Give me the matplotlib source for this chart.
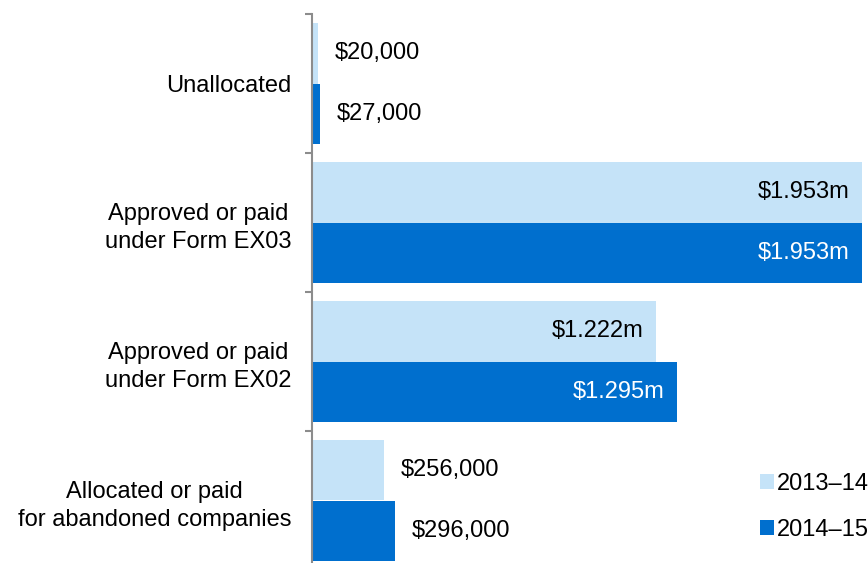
import matplotlib
matplotlib.use("Agg")
import matplotlib.pyplot as plt
import numpy as np
from matplotlib.patches import Patch

categories = ["Unallocated", "Approved or paid\nunder Form EX03",
              "Approved or paid\nunder Form EX02", "Allocated or paid\nfor abandoned companies"]
series_names = ["2013\u201314", "2014\u201315"]
values_1314 = [0.020, 1.953, 1.222, 0.256]   # $ millions
values_1415 = [0.027, 1.953, 1.295, 0.296]
labels_1314 = ["$20,000", "$1.953m", "$1.222m", "$256,000"]
labels_1415 = ["$27,000", "$1.953m", "$1.295m", "$296,000"]

light = "#C5E3F8"
dark = "#006FCE"

plt.rcParams['font.family'] = ['Liberation Sans', 'DejaVu Sans']
FS = 17

fig = plt.figure(figsize=(8.68, 5.63), dpi=100)
ax = fig.add_axes([312/868, (563-570)/563, 556/868, 556/563])

y = np.arange(len(categories))
h = 0.432
b1 = ax.barh(y - h/2, values_1314, height=h, color=light, label=series_names[0])
b2 = ax.barh(y + h/2, values_1415, height=h, color=dark, label=series_names[1])

ax.set_ylim(len(categories) - 0.5, -0.5)
ax.set_xlim(0, 1.975)

def annotate(bars, vals, labs, inside_color):
    for bar, v, lab in zip(bars, vals, labs):
        cy = bar.get_y() + bar.get_height()/2
        if v > 1.0:
            ax.annotate(lab, (v, cy), xytext=(-9, 0), textcoords='offset points',
                        ha='right', va='center', fontsize=FS, color=inside_color)
        else:
            ax.annotate(lab, (v, cy), xytext=(12, 0), textcoords='offset points',
                        ha='left', va='center', fontsize=FS, color='black')

annotate(b1, values_1314, labels_1314, 'black')
annotate(b2, values_1415, labels_1415, 'white')

for s in ['top', 'right', 'bottom']:
    ax.spines[s].set_visible(False)
ax.spines['left'].set_color('#8C8C8C')
ax.spines['left'].set_linewidth(1.5)
ax.set_xticks([])

ax.set_yticks(np.arange(len(categories) + 1) - 0.5)
ax.set_yticklabels([])
ax.tick_params(axis='y', which='major', length=5, width=1.5, color='#8C8C8C')
ax.set_yticks(y, minor=True)
ax.set_yticklabels(categories, minor=True, fontsize=FS, multialignment='center',
                   linespacing=1.35)
ax.tick_params(axis='y', which='minor', length=0, pad=15)

handles = [Patch(facecolor=light, label=series_names[0]), Patch(facecolor=dark, label=series_names[1])]
leg = fig.legend(handles=handles, loc='center left', bbox_to_anchor=(748/868, 1 - 507/563),
                 frameon=False, fontsize=FS, handlelength=0.6, handleheight=0.6,
                 handletextpad=0.12, labelspacing=1.0, borderpad=0)

fig.savefig("out.png", dpi=100)
